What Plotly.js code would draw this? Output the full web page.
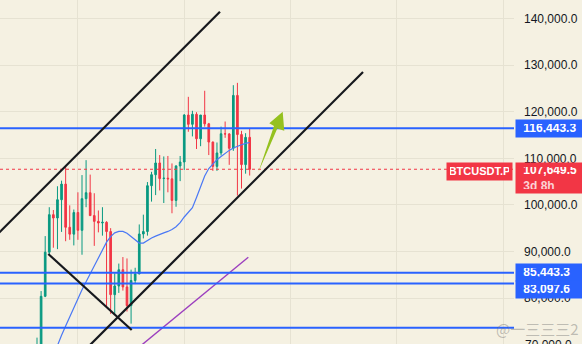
<!DOCTYPE html>
<html><head><meta charset="utf-8">
<script src="https://cdn.plot.ly/plotly-3.0.1.min.js"></script>
<style>html,body{margin:0;padding:0;background:#f5f1e2;}#chart{width:582px;height:344px;}</style>
</head><body><div id="chart"></div>
<script>
// Weekly candles BTCUSDT.P (week start dates)
const weeks = ['2024-10-28','2024-11-04','2024-11-11','2024-11-18','2024-11-25','2024-12-02','2024-12-09','2024-12-16','2024-12-23','2024-12-30',
'2025-01-06','2025-01-13','2025-01-20','2025-01-27','2025-02-03','2025-02-10','2025-02-17','2025-02-24','2025-03-03','2025-03-10',
'2025-03-17','2025-03-24','2025-03-31','2025-04-07','2025-04-14','2025-04-21','2025-04-28','2025-05-05','2025-05-12','2025-05-19',
'2025-05-26','2025-06-02','2025-06-09','2025-06-16','2025-06-23','2025-06-30','2025-07-07','2025-07-14','2025-07-21','2025-07-28',
'2025-08-04','2025-08-11','2025-08-18','2025-08-25','2025-09-01','2025-09-08','2025-09-15','2025-09-22','2025-09-29','2025-10-06',
'2025-10-13','2025-10-20','2025-10-27'];
const openP = [67930,68780,80370,89850,97900,97190,101110,104460,95190,93720,
98360,94540,101330,102610,97700,96460,96120,96260,94270,80730,
82580,86080,82390,78370,83760,85180,93750,94280,104120,106480,
109000,105650,105730,105590,100960,108360,109200,119290,117300,119450,
114200,119290,117400,113490,108270,111150,115270,115230,112160,123500,
115100,108650,114500];
const highP = [71500,81500,93300,99500,98900,104000,105200,108400,99900,99000,
102700,106400,109600,106500,102500,98800,99500,96500,95000,85300,
87400,88800,88500,86100,86500,95800,97900,104900,107100,112000,
110700,110400,110500,108900,108500,110500,119500,123200,120200,119900,
119300,124500,117600,113600,113400,116800,117900,115400,125700,126200,
115900,115400,116400];
const lowP = [66800,66800,80200,89400,90800,90500,94200,92200,92500,91300,
92500,89300,99500,97800,91200,94100,93400,78200,76600,76600,
81100,81600,77100,74500,83000,85100,92800,93400,100700,102100,
103100,100400,102700,98200,99600,105100,107500,115700,114700,112000,
112600,116800,110700,107300,107300,110600,114400,108600,111600,102000,
103500,106700,106300];
const closeP = [68780,80370,89850,97900,97190,101110,104460,95190,93720,98360,
94540,101330,102610,97700,96460,96120,96260,94270,80730,82580,
86080,82390,78370,83760,85180,93750,94280,104120,106480,109000,
105650,105730,105590,100960,108360,109200,119290,117300,119450,114200,
119290,117400,113490,108270,111150,115270,115230,112160,123500,115100,
108650,114500,107649.5];
// blue moving average (null = off-screen)
const maValues = [null,null,null,null,67600,69900,72000,74000,76000,78000,
80000,81800,83500,85200,86900,88700,90500,92000,93200,94000,
94300,94300,93900,93200,92400,91800,91800,92400,92900,93300,
93700,94000,94300,94700,95300,96200,97400,98300,99400,101600,
104000,106200,107800,108800,109700,110400,111100,111700,112200,112600,
112900,113200,113400];
// purple long MA (straight segment), positions in week index
const purpleIdx = [24, 51.66];
const purpleValues = [68770, 88746];
// horizontal levels
const levelLines = [116443.3, 85443.3, 83097.6, 73630];
const labelledLevels = [116443.3, 85443.3, 83097.6];
const lastPrice = 107649.5;
const symbol = 'BTCUSDT.P';
const countdown = '3d 8h';
const priceTicks = [70000,80000,90000,100000,110000,120000,130000,140000];
const timeGrid = [10, 36, 62, 88, 114];
// drawn trend lines [idx, price] pairs
const upperChannel = [[-10.02, 93384], [44.74, 141477]];
const lowerChannel = [[12.47, 69487], [79.71, 128531]];
const downLine = [[2.76, 89455], [23.15, 73138]];
const arrowPts = [[54.11, 106996], [58.75, 116400], [60.46, 115928], [60.07, 120007], [56.80, 117517], [57.95, 116937]];

function fmt(v){
  const s = v.toFixed(1); const p = s.split('.');
  return p[0].replace(/\B(?=(\d{3})+(?!\d))/g, ',') + '.' + p[1];
}
const idx = weeks.map((_, i) => i);
const BG = '#f5f1e2', GRID = '#e6e2d2', GREEN = '#089981', RED = '#f23645', BLUE = '#2962ff';
const FONT = 'Liberation Sans, Arial, sans-serif';

const traces = [
  {type:'candlestick', x: idx, open: openP, high: highP, low: lowP, close: closeP,
   increasing:{line:{color:GREEN, width:1}, fillcolor:GREEN},
   decreasing:{line:{color:RED, width:1}, fillcolor:RED},
   whiskerwidth:0, hoverinfo:'skip', showlegend:false},
  {type:'scatter', mode:'lines', x: idx, y: maValues, line:{color:'#4a78f5', width:1.2}, hoverinfo:'skip', showlegend:false, connectgaps:false},
  {type:'scatter', mode:'lines', x: purpleIdx, y: purpleValues, line:{color:'#9c3fbf', width:1.4}, hoverinfo:'skip', showlegend:false}
];

const shapes = [];
levelLines.forEach(v => shapes.push({type:'line', xref:'paper', x0:0, x1:1, yref:'y', y0:v, y1:v, line:{color:BLUE, width:2}}));
shapes.push({type:'line', xref:'paper', x0:0, x1:1, yref:'y', y0:lastPrice, y1:lastPrice, line:{color:RED, width:1, dash:'dot'}});
[upperChannel, lowerChannel, downLine].forEach(l => shapes.push({type:'line', xref:'x', yref:'y', x0:l[0][0], y0:l[0][1], x1:l[1][0], y1:l[1][1], line:{color:'#16181d', width:2.2}}));
shapes.push({type:'path', xref:'x', yref:'y', path: 'M ' + arrowPts.map(p => p[0] + ',' + p[1]).join(' L ') + ' Z', fillcolor:'#95c11f', line:{width:0}});

const annotations = [];
const boxFont = {family: FONT, size: 12, color: '#ffffff', weight: 'bold'};
labelledLevels.forEach((v, k) => annotations.push({xref:'paper', x:1, xanchor:'left', xshift:1, yref:'y', y:v, yanchor:'middle',
  yshift: k === 2 ? -6 : 0, text:'&nbsp;' + fmt(v), showarrow:false, align:'left', bgcolor:BLUE, borderpad:4, width:58, height:8.5, font: boxFont}));
annotations.push({xref:'paper', x:1, xanchor:'left', xshift:1, yref:'y', y:lastPrice, yanchor:'top', yshift:7,
  text:'&nbsp;' + fmt(lastPrice) + '<br><span style="color:rgba(255,255,255,0.78)">&nbsp;' + countdown + '</span>', showarrow:false, align:'left',
  bgcolor:RED, borderpad:4, width:58, height:22, font: boxFont});
annotations.push({xref:'paper', x:1, xanchor:'right', xshift:-1, yref:'y', y:lastPrice, yanchor:'top', yshift:7,
  text: symbol, showarrow:false, align:'center', bgcolor:RED, borderpad:3, width:59, height:10.5, font:{family: FONT, size: 11, color:'#ffffff', weight:'bold'}});
// partially visible bottom tick label
annotations.push({xref:'paper', x:1, xanchor:'left', xshift:9, yref:'paper', y:(70000-70132)/(143989-70132), yanchor:'middle',
  text: fmt(70000), showarrow:false, font:{family: FONT, size:12, color:'#131722'}});
// watermark
annotations.push({xref:'paper', x:1.045, xanchor:'center', yref:'paper', y:0.045, yanchor:'middle',
  text:'@一三三三2', showarrow:false, font:{family:'Noto Sans CJK SC', size:15, color:'rgba(120,120,120,0.45)'}});

const layout = {
  width: 582, height: 344,
  margin: {l:0, r:68, t:0, b:0},
  paper_bgcolor: BG, plot_bgcolor: BG,
  boxgap: 0.42,
  showlegend: false, hovermode: false, dragmode: false,
  font: {family: FONT, color: '#131722'},
  xaxis: {type:'linear', range:[-9.05, 116.63], showticklabels:false, tickvals: timeGrid, ticks:'', showgrid:true, gridcolor:GRID, gridwidth:1,
          zeroline:false, showline:false, rangeslider:{visible:false}, fixedrange:true},
  yaxis: {side:'right', range:[70132, 143989], tickvals: priceTicks, ticktext: priceTicks.map(fmt), ticks:'', ticklabelstandoff: 9,
          showgrid:true, gridcolor:GRID, gridwidth:1, zeroline:false, showline:false, fixedrange:true,
          tickfont:{family: FONT, size:12, color:'#131722'}},
  shapes: shapes,
  annotations: annotations
};
Plotly.newPlot('chart', traces, layout, {staticPlot:true, displayModeBar:false});
</script></body></html>
